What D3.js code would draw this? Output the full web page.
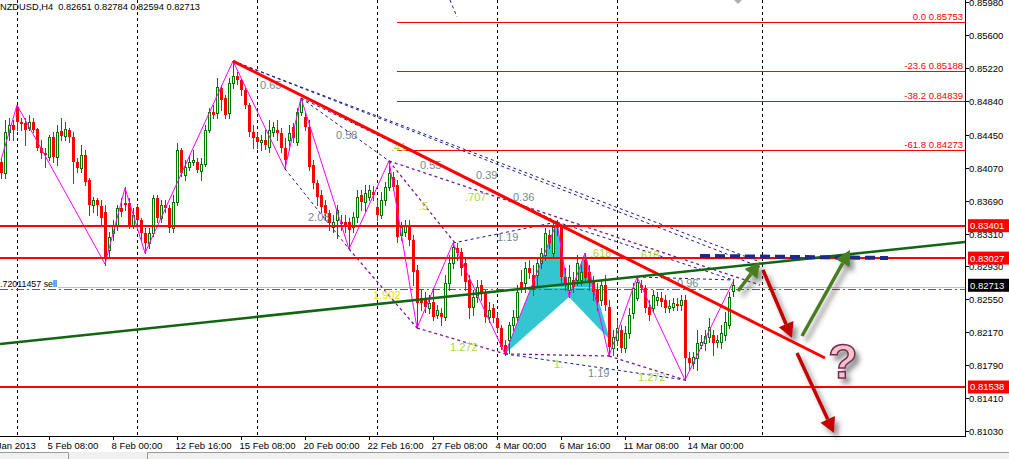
<!DOCTYPE html>
<html><head><meta charset="utf-8">
<script src="https://cdn.jsdelivr.net/npm/d3@7"></script>
<style>
body{margin:0;background:#fff;overflow:hidden}
svg{display:block}
text{font-family:"Liberation Sans",Arial,sans-serif}
</style>
</head><body>
<svg id="c" width="1009" height="459"></svg>
<script>
// ---------------- DATA ----------------
const symbolHeader = "NZDUSD,H4  0.82651 0.82784 0.82594 0.82713";
// H4 candles [open, high, low, close], one per bar index 0..183
const candles = [
[.84137,.84184,.83953,.84010],[.84010,.84622,.83953,.84484],[.84484,.84646,.84391,.84564],[.84564,.84622,.84391,.84507],
[.84772,.84795,.84507,.84599],[.84599,.84646,.84507,.84576],[.84587,.84646,.84333,.84507],[.84530,.84680,.84507,.84599],
[.84599,.84646,.84484,.84507],[.84518,.84530,.84276,.84299],[.84299,.84391,.84184,.84241],[.84241,.84299,.84079,.84218],
[.84195,.84449,.84160,.84426],[.84426,.84484,.84137,.84195],[.84195,.84564,.84102,.84484],[.84495,.84646,.84391,.84438],
[.84438,.84599,.84391,.84518],[.84507,.84530,.84368,.84426],[.84426,.84484,.83894,.84137],[.84137,.84184,.84022,.84068],
[.84068,.84333,.84022,.84218],[.84218,.84276,.83871,.83906],[.83929,.83953,.83525,.83640],[.83640,.83733,.83560,.83698],
[.83698,.83722,.83525,.83640],[.83629,.83698,.83409,.83491],[.83560,.83640,.82947,.83040],[.83121,.83329,.83028,.83271],
[.83317,.83467,.83236,.83409],[.83409,.83640,.83352,.83606],[.83606,.83722,.83514,.83560],[.83663,.83848,.83583,.83640],
[.83663,.83722,.83375,.83409],[.83409,.83606,.83375,.83525],[.83617,.83640,.83409,.83467],[.83467,.83491,.83236,.83317],
[.83317,.83375,.83086,.83201],[.83201,.83375,.83144,.83317],[.83317,.83756,.83283,.83722],[.83722,.83756,.83444,.83491],
[.83491,.83698,.83444,.83640],[.83640,.83698,.83560,.83606],[.83606,.83640,.83329,.83375],[.83375,.83756,.83329,.83675],
[.83675,.84356,.83640,.84276],[.84276,.84299,.83976,.84010],[.83987,.84160,.83929,.84079],[.84079,.84218,.84045,.84137],
[.84137,.84276,.84102,.84160],[.84137,.84184,.84022,.84045],[.84033,.84184,.83929,.84114],[.84114,.84564,.84091,.84507],
[.84507,.84761,.84484,.84715],[.84715,.84795,.84646,.84680],[.84703,.85108,.84646,.85003],[.84992,.85026,.84738,.84853],
[.84876,.84911,.84646,.84680],[.84703,.85108,.84646,.85049],[.85049,.85303,.84992,.85131],[.85131,.85177,.85038,.85084],
[.85084,.85108,.84911,.84969],[.84969,.84992,.84761,.84795],[.84795,.84818,.84438,.84484],[.84484,.84564,.84299,.84415],
[.84426,.84472,.84299,.84368],[.84368,.84449,.84276,.84391],[.84391,.84507,.84287,.84333],[.84310,.84622,.84253,.84507],
[.84484,.84599,.84438,.84541],[.84507,.84622,.84391,.84472],[.84472,.84530,.84253,.84299],[.84299,.84415,.84056,.84160],
[.84391,.84564,.84276,.84472],[.84541,.84587,.84368,.84415],[.84368,.84761,.84333,.84715],[.84715,.84876,.84680,.84853],
[.84657,.84715,.84507,.84541],[.84541,.84622,.84045,.84079],[.84102,.84160,.83837,.83894],[.83894,.83929,.83640,.83733],
[.83756,.83814,.83560,.83617],[.83640,.83698,.83467,.83548],[.83548,.83583,.83352,.83432],[.83386,.83525,.83329,.83444],
[.83467,.83640,.83259,.83583],[.83444,.83525,.83352,.83421],[.83444,.83525,.83329,.83409],[.83444,.83491,.83132,.83352],
[.83386,.83560,.83329,.83502],[.83502,.83814,.83444,.83733],[.83756,.83814,.83583,.83675],[.83675,.83871,.83560,.83779],
[.83733,.83871,.83698,.83814],[.83791,.83860,.83698,.83756],[.83617,.83698,.83467,.83525],[.83525,.83791,.83491,.83698],
[.83698,.83906,.83640,.83848],[.83848,.84149,.83814,.84010],[.83964,.84022,.83814,.83848],[.83871,.83929,.83213,.83271],
[.83294,.83444,.83236,.83386],[.83329,.83467,.83283,.83409],[.83409,.83467,.83179,.83236],[.83236,.83294,.82716,.82867],
[.82890,.82947,.82220,.82508],[.82566,.82659,.82428,.82508],[.82566,.82636,.82405,.82462],[.82451,.82601,.82393,.82508],
[.82520,.82682,.82312,.82347],[.82370,.82485,.82335,.82428],[.82393,.82451,.82254,.82347],[.82347,.82832,.82312,.82739],
[.82739,.83063,.82659,.82970],[.82970,.83201,.82913,.83155],[.83144,.83201,.83005,.83086],[.83098,.83144,.82832,.82913],
[.82970,.83028,.82659,.82751],[.82774,.82832,.82335,.82451],[.82462,.82659,.82370,.82578],[.82578,.82774,.82520,.82694],
[.82716,.82774,.82543,.82624],[.82624,.82659,.82289,.82347],[.82347,.82520,.82289,.82428],[.82451,.82497,.82289,.82335],
[.82335,.82393,.82185,.82220],[.82220,.82254,.81977,.82000],[.82023,.82081,.81908,.81931],[.82081,.82289,.81931,.82254],
[.82254,.82428,.82197,.82347],[.82347,.82716,.82312,.82636],[.82751,.82890,.82636,.82682],[.82739,.82982,.82636,.82913],
[.82913,.83005,.82797,.82855],[.82832,.82947,.82601,.82659],[.82832,.83028,.82716,.82970],[.82970,.83144,.82913,.83086],
[.83063,.83375,.83005,.83317],[.83294,.83352,.83144,.83201],[.83086,.83444,.83028,.83386],[.83386,.83467,.83294,.83409],
[.83386,.83409,.82751,.82809],[.82809,.82913,.82659,.82739],[.82659,.82947,.82578,.82809],[.82774,.82867,.82636,.82694],
[.82774,.83063,.82716,.82970],[.82774,.82947,.82716,.82867],[.83005,.83086,.82751,.82797],[.82867,.82947,.82659,.82739],
[.82751,.82821,.82543,.82636],[.82659,.82739,.82428,.82520],[.82543,.82774,.82485,.82716],[.82716,.82832,.82428,.82485],
[.82462,.82543,.81896,.82000],[.81989,.82197,.81908,.82116],[.82081,.82312,.82023,.82220],[.82197,.82254,.81943,.81989],
[.81989,.82243,.81943,.82162],[.82162,.82451,.82104,.82370],[.82393,.82739,.82335,.82682],[.82566,.82809,.82543,.82751],
[.82716,.82774,.82636,.82682],[.82682,.82716,.82405,.82451],[.82462,.82543,.82312,.82370],[.82451,.82659,.82405,.82601],
[.82543,.82636,.82485,.82578],[.82566,.82636,.82474,.82520],[.82543,.82601,.82405,.82451],[.82451,.82543,.82405,.82474],
[.82462,.82566,.82428,.82508],[.82497,.82566,.82428,.82474],[.82485,.82601,.82428,.82543],[.82543,.82601,.81619,.81873],
[.81873,.81943,.81735,.81815],[.81815,.81943,.81758,.81885],[.81873,.82197,.81735,.82046],[.82023,.82139,.81989,.82058],
[.82046,.82197,.81966,.82127],[.82116,.82335,.82058,.82231],[.82139,.82197,.81908,.82046],[.82058,.82139,.82000,.82081],
[.82058,.82254,.81989,.82162],[.82139,.82405,.82081,.82289],[.82254,.82636,.82220,.82578],[.82651,.82784,.82594,.82713]
];
const priceTicks = [0.85980,0.85600,0.85220,0.84840,0.84450,0.84070,0.83690,0.83310,0.82930,0.82550,0.82170,0.81790,0.81410,0.81030];
const timeTickBars = [-4,12,28,44,60,76,92,108,124,140,156,172];
const timeTickLabels = ["31 Jan 2013","5 Feb 08:00","8 Feb 00:00","12 Feb 16:00","15 Feb 08:00","20 Feb 00:00","22 Feb 16:00","27 Feb 08:00","4 Mar 00:00","6 Mar 16:00","11 Mar 08:00","14 Mar 00:00"];
const gridBars = [4,34,64,94,124,154,190.25];
const levels = [0.83401,0.83027,0.81538];
const fibNames = ["0.0","-23.6","-38.2","-61.8"];
const fibValues = [0.85753,0.85188,0.84839,0.84273];
const fibStartBar = 99;
const currentPrice = 0.82713;
const orderLabel = ".72011457 sell";
const orderPrice = 0.82688;
const orderStopPrice = 0.82665;
const zigzag = [[0,.84160],[4,.84795],[26,.82959],[31,.83837],[36,.83086],[58,.85303],[71,.84056],[75,.84876],[87,.83132],
  [97,.84149],[104,.82220],[113,.83201],[126,.81920],[139,.83444],[142,.82578],[146,.83086],[152,.81896],[159,.82809],[171,.81619],[183,.82751]];
const cyanTriangles = [
  [[126,.81920],[139,.83444],[142,.82578]],
  [[142,.82578],[146,.83086],[152.25,.82081]]
];
const navyLines = [
  [[58,.85303],[189.75,.82982]],[[58,.85303],[189.75,.82924]],[[75,.84876],[139,.83444]],[[75,.84876],[97,.84149]],
  [[71,.84056],[87,.83132]],[[113,.83201],[139,.83444]],[[139,.83444],[183,.82774]],[[159,.82809],[183,.82774]],
  [[126,.81920],[171,.81619]],[[112.25,.86008],[114,.85812]]
];
const purpleLines = [
  [[97,.84149],[189.75,.82716]],[[97,.84149],[113.5,.83201]],[[87,.83132],[104,.82220]],[[104,.82220],[126,.81920]],
  [[126,.81920],[152,.81896]],[[152,.81896],[171,.81619]]
];
const patternLabels = [
  ["0.65",64.75,.85026,"#7a8796"],["0.58",83.75,.84449,"#7a8796"],["0.55",104.75,.84102,"#7a8796"],["0.39",118.75,.83987,"#7a8796"],
  ["0.36",128,.83733,"#7a8796"],[".41",97.5,.84310,"#a8d838"],[".707",116,.83733,"#a8d838"],[".5",104.5,.83629,"#c8d820"],
  ["2.08",76.75,.83502,"#7a8796"],["1.902",93,.82601,"#e4e400"],["1.272",112.25,.82000,"#a8d838"],["1.19",124,.83271,"#7a8796"],
  [".618",147.25,.83086,"#a8d838"],[".618",159.25,.83063,"#a8d838"],["0.96",169,.82739,"#7a8796"],["1.",138.25,.81804,"#a8d838"],
  ["1.19",146.75,.81700,"#7a8796"],["1.272",159.25,.81654,"#a8d838"]
];
const redTrend = [[58,.85303],[206,.81873]];
const greenTrend = [[-0.25,.82035],[241,.83213]];
const blueDashed = [[174.75,.83052],[221.75,.83028]];
const upArrows = [[[184.25,.82647],[189.75,.82982]],[[200.25,.82127],[212.25,.83121]]];
const downArrows = [[[190.5,.82890],[197.75,.82104]],[[199,.81931],[208.25,.81007]]];
const questionAt = [210.5,.81850];
const topMarkerAt = [184.25,.86008];

// ---------------- CHART ----------------
const W = 1009, H = 459, PR = 965, PB = 436;
const svg = d3.select("#c");
const x = d3.scaleLinear().domain([-0.25, 241]).range([0, PR]);
const y = d3.scaleLinear().domain([0.80972, 0.86008]).range([PB, 0]);
const pt = d => [x(d[0]), y(d[1])];

const defs = svg.append("defs");
const sh = defs.append("filter").attr("id","shadow").attr("x","-50%").attr("y","-50%").attr("width","200%").attr("height","200%");
sh.append("feDropShadow").attr("dx",4).attr("dy",5).attr("stdDeviation",2.6).attr("flood-color","#3a3a3a").attr("flood-opacity",0.55);
defs.append("clipPath").attr("id","plot").append("rect").attr("x",0).attr("y",0).attr("width",PR).attr("height",PB);

svg.append("rect").attr("width",W).attr("height",H).attr("fill","#fff");
const g = svg.append("g").attr("clip-path","url(#plot)");

// vertical grid
g.selectAll(".vg").data(gridBars).join("line")
  .attr("x1",d=>Math.round(x(d))+0.5).attr("x2",d=>Math.round(x(d))+0.5).attr("y1",0).attr("y2",PB)
  .attr("stroke","#000").attr("stroke-dasharray","3,3");

// cyan triangles
g.selectAll(".tri").data(cyanTriangles).join("polygon")
  .attr("points",d=>d.map(p=>pt(p).join(",")).join(" ")).attr("fill","#33c6d0");

// fib lines
const fibG = g.append("g");
fibValues.forEach((v,k)=>{
  const yy = Math.round(y(v))+0.5;
  fibG.append("line").attr("x1",x(fibStartBar)).attr("x2",PR).attr("y1",yy).attr("y2",yy).attr("stroke","#ff0000").attr("stroke-width",1);
  fibG.append("text").attr("x",PR-2).attr("y",yy-3).attr("text-anchor","end").attr("font-size","9.5px").attr("fill","#ff0000")
    .text(fibNames[k]+" "+v.toFixed(5));
});

// order lines
const oy = Math.round(y(orderPrice))+0.5;
g.append("line").attr("x1",58).attr("x2",PR).attr("y1",oy).attr("y2",oy).attr("stroke","#c0c0c0");
const sy = Math.round(y(orderStopPrice))+0.5;
g.append("line").attr("x1",0).attr("x2",PR).attr("y1",sy).attr("y2",sy).attr("stroke","#1e8a1e").attr("stroke-dasharray","8,3,2,3");
g.append("text").attr("x",0).attr("y",oy-1).attr("font-size","9.5px").attr("fill","#000")
  .attr("textLength",57).attr("lengthAdjust","spacingAndGlyphs").text(orderLabel);

// candles
const cg = g.append("g");
candles.forEach((c,i)=>{
  const [o,h,l,cl] = c;
  const col = Math.round(x(i));
  const bull = cl >= o;
  const color = bull ? "#007800" : "#ff0000";
  cg.append("line").attr("x1",col+0.5).attr("x2",col+0.5).attr("y1",Math.round(y(h))).attr("y2",Math.round(y(l))+1)
    .attr("stroke",color).attr("stroke-width",1);
  const t = Math.round(y(Math.max(o,cl))), b = Math.round(y(Math.min(o,cl)));
  if (bull) {
    cg.append("rect").attr("x",col-0.5).attr("y",t+0.5).attr("width",2).attr("height",Math.max(b-t,0.01))
      .attr("fill","#fff").attr("stroke",color).attr("stroke-width",1);
  } else {
    cg.append("rect").attr("x",col-1).attr("y",t).attr("width",3).attr("height",Math.max(b-t,1)).attr("fill",color);
  }
});

// zigzag
const line = d3.line().x(d=>x(d[0])).y(d=>y(d[1]));
g.append("path").attr("d",line(zigzag)).attr("fill","none").attr("stroke","#ff00ff").attr("stroke-width",1);

// pattern dashed lines
g.selectAll(".nl").data(navyLines).join("path").attr("d",line).attr("fill","none")
  .attr("stroke","#1a1a8c").attr("stroke-width",1).attr("stroke-dasharray","3,3");
g.selectAll(".pl").data(purpleLines).join("path").attr("d",line).attr("fill","none")
  .attr("stroke","#7a1a8a").attr("stroke-width",1.3).attr("stroke-dasharray","3,3");

// labels
g.selectAll(".lb").data(patternLabels).join("text")
  .attr("x",d=>x(d[1])).attr("y",d=>y(d[2])+4).attr("font-size","11px").attr("fill",d=>d[3]).text(d=>d[0]);

// horizontal levels
g.selectAll(".lv").data(levels).join("line")
  .attr("x1",0).attr("x2",PR).attr("y1",d=>Math.round(y(d))).attr("y2",d=>Math.round(y(d)))
  .attr("stroke","#ff0000").attr("stroke-width",2);

// trend lines
g.append("path").attr("d",line(redTrend)).attr("stroke","#ff0000").attr("stroke-width",3).attr("fill","none");
g.append("path").attr("d",line(greenTrend)).attr("stroke","#116611").attr("stroke-width",2.5).attr("fill","none");

// blue dashed line with shadow
g.append("path").attr("d",line(blueDashed)).attr("stroke","#1c2a8c").attr("stroke-width",4).attr("fill","none")
  .attr("stroke-dasharray","10,5").attr("filter","url(#shadow)");

// small grey marker at top edge
const tm = pt(topMarkerAt);
g.append("polygon").attr("points",`${tm[0]-4},${tm[1]} ${tm[0]+4},${tm[1]} ${tm[0]},${tm[1]+4}`).attr("fill","#b0b0b0");

// arrows
function arrow(d, color){
  const [x1,y1] = pt(d[0]), [x2,y2] = pt(d[1]);
  const ang = Math.atan2(y2-y1,x2-x1), L = 15, Wd = 8;
  const bx = x2 - L*Math.cos(ang), by = y2 - L*Math.sin(ang);
  const a = svg.append("g").attr("filter","url(#shadow)");
  a.append("line").attr("x1",x1).attr("y1",y1).attr("x2",bx).attr("y2",by).attr("stroke",color).attr("stroke-width",3.5);
  const px = -Math.sin(ang)*Wd, py = Math.cos(ang)*Wd;
  a.append("polygon").attr("points",`${x2},${y2} ${bx+px},${by+py} ${bx-px},${by-py}`).attr("fill",color);
}
upArrows.forEach(d=>arrow(d,"#4a7d22"));
downArrows.forEach(d=>arrow(d,"#c40000"));

// question mark
svg.append("text").attr("x",x(questionAt[0])).attr("y",y(questionAt[1])+18).attr("text-anchor","middle")
  .attr("font-family","'DejaVu Serif',serif").attr("font-weight","bold").attr("font-size","48px")
  .attr("fill","#f2c4cc").attr("stroke","#7b2a52").attr("stroke-width",1.5).attr("filter","url(#shadow)").text("?");

// axes
svg.append("line").attr("x1",PR+0.5).attr("x2",PR+0.5).attr("y1",0).attr("y2",PB+1).attr("stroke","#000");
svg.append("line").attr("x1",0).attr("x2",PR+1).attr("y1",PB+0.5).attr("y2",PB+0.5).attr("stroke","#000");
const ya = svg.append("g");
priceTicks.forEach(v=>{
  const yy = Math.round(y(v))+0.5;
  ya.append("line").attr("x1",PR).attr("x2",PR+4).attr("y1",yy).attr("y2",yy).attr("stroke","#000");
  ya.append("text").attr("x",PR+4).attr("y",yy+3.5).attr("font-size","9.5px").attr("fill","#000").text(v.toFixed(5));
});
const xa = svg.append("g");
timeTickBars.forEach((b,k)=>{
  const xx = Math.round(x(b))+0.5;
  xa.append("line").attr("x1",xx).attr("x2",xx).attr("y1",PB).attr("y2",PB+4).attr("stroke","#000");
  xa.append("text").attr("x",xx-2).attr("y",PB+13).attr("font-size","9.5px").attr("fill","#000").text(timeTickLabels[k]);
});
// price markers on axis
function marker(v, bg){
  const yy = y(v);
  svg.append("rect").attr("x",PR+3).attr("y",yy-6.5).attr("width",41).attr("height",13).attr("fill",bg);
  svg.append("text").attr("x",PR+5).attr("y",yy+3.5).attr("font-size","9.5px").attr("fill","#fff").text(v.toFixed(5));
}
levels.forEach(v=>marker(v,"#ff0000"));
marker(currentPrice,"#000");

// header
svg.append("text").attr("x",0).attr("y",10).attr("font-size","9.5px").attr("fill","#000")
  .attr("xml:space","preserve").attr("textLength",200).attr("lengthAdjust","spacingAndGlyphs").text(symbolHeader);

// bottom tab strip
svg.append("rect").attr("x",0).attr("y",452).attr("width",W).attr("height",7).attr("fill","#f0f0f0");
svg.append("path").attr("d","M0,452.5H68.5V459 M147.5,459V452.5H1009").attr("stroke","#9a9a9a").attr("fill","none");
</script>
</body></html>
